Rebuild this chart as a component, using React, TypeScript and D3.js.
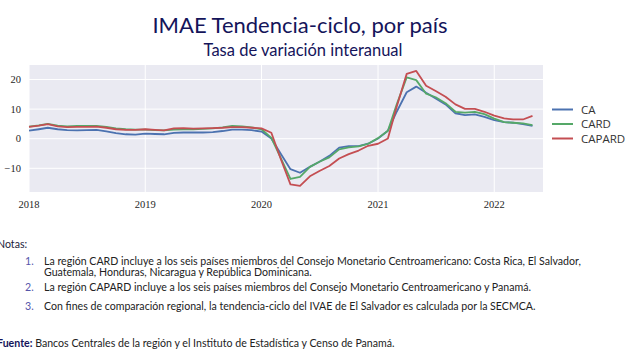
import * as d3 from "d3";

// monthly observations, Jan 2018 .. May 2022
const months = d3.timeMonth.range(new Date(2018, 0, 1), new Date(2022, 5, 1));

const ca = [
  2.7, 3.2, 3.7, 3.2, 2.9, 2.8, 2.9, 3.0, 2.5, 1.9, 1.5, 1.4,
  1.7, 1.6, 1.5, 2.0, 2.1, 2.1, 2.1, 2.2, 2.6, 3.1, 3.1, 2.9,
  2.4, 0.1, -5.0, -10.3, -11.5, -9.5, -7.8, -5.8, -3.0, -2.5, -2.5, -1.7,
  0.1, 2.7, 9.2, 15.7, 17.6, 15.5, 13.6, 11.6, 8.6, 8.0, 8.2, 7.4,
  6.3, 5.6, 5.4, 4.9, 4.3,
];

const card = [
  4.1, 4.5, 5.0, 4.4, 4.2, 4.3, 4.3, 4.3, 4.0, 3.5, 3.2, 3.1,
  3.1, 2.9, 2.8, 3.1, 3.2, 3.2, 3.3, 3.5, 3.8, 4.3, 4.2, 3.8,
  3.2, 0.3, -6.4, -13.6, -12.9, -9.5, -7.8, -6.3, -3.6, -2.9, -2.6, -1.7,
  0.2, 2.7, 11.7, 20.7, 19.8, 15.2, 14.0, 12.0, 9.1, 8.8, 9.1, 8.3,
  6.8, 5.6, 5.4, 5.2, 4.6,
];

const capard = [
  4.0, 4.4, 4.9, 4.2, 3.9, 4.0, 4.0, 4.1, 3.7, 3.2, 3.0, 3.0,
  3.2, 3.0, 2.8, 3.5, 3.6, 3.4, 3.5, 3.6, 3.7, 3.9, 3.9, 3.7,
  3.5, 2.0, -6.7, -15.4, -15.9, -12.7, -10.9, -9.2, -6.7, -5.2, -4.0, -2.4,
  -1.7, 0.1, 11.0, 21.9, 22.9, 17.9, 16.1, 14.2, 11.6, 10.1, 10.1, 9.1,
  7.8, 6.9, 6.5, 6.5, 7.7,
];

const seriesNames = ["CA", "CARD", "CAPARD"];
const seriesValues = [ca, card, capard];
const seriesColors = ["#4C72B0", "#55A868", "#C44E52"];

const yTicks = [-10, 0, 10, 20];
const yearTicks = [2018, 2019, 2020, 2021, 2022];

const title = "IMAE Tendencia-ciclo, por país";
const subtitle = "Tasa de variación interanual";

const notes = [
  [
    "La región CARD incluye a los seis países miembros del Consejo Monetario Centroamericano: Costa Rica, El Salvador,",
    "Guatemala, Honduras, Nicaragua y República Dominicana.",
  ],
  ["La región CAPARD incluye a los seis países miembros del Consejo Monetario Centroamericano y Panamá."],
  ["Con fines de comparación regional, la tendencia-ciclo del IVAE de El Salvador es calculada por la SECMCA."],
];
const source = "Bancos Centrales de la región y el Instituto de Estadística y Censo de Panamá.";

const W = 640;
const H = 361;
const plot = { left: 29, right: 543, top: 65, bottom: 192 };

const headFont = "Lato, 'Noto Sans', sans-serif";

export default function App() {
  const x = d3
    .scaleTime()
    .domain([new Date(2018, 0, 1), new Date(2022, 5, 3)])
    .range([plot.left, plot.right]);
  const y = d3.scaleLinear().domain([-18, 24.9]).range([plot.bottom, plot.top]);

  const line = d3
    .line<number>()
    .x((_, i) => x(months[i]))
    .y((d) => y(d));

  const noteRows = [264.5, 291, 309.5];
  const noteSize = 10.6;

  return (
    <svg
      width={W}
      height={H}
      style={{ position: "absolute", left: 0, top: 0, background: "#fff" }}
    >
      <text x={300} y={33} textAnchor="middle" fontFamily={headFont} fontSize={22} fill="#14145a">
        {title}
      </text>
      <text x={303} y={56} textAnchor="middle" fontFamily={headFont} fontSize={16.5} fill="#14145a">
        {subtitle}
      </text>

      <rect
        x={plot.left}
        y={plot.top}
        width={plot.right - plot.left}
        height={plot.bottom - plot.top}
        fill="#EAEAF2"
      />
      {yTicks.map((t) => (
        <line key={"gy" + t} x1={plot.left} x2={plot.right} y1={y(t)} y2={y(t)} stroke="#fff" strokeWidth={1} />
      ))}
      {yearTicks.map((yr) => (
        <line
          key={"gx" + yr}
          x1={x(new Date(yr, 0, 1))}
          x2={x(new Date(yr, 0, 1))}
          y1={plot.top}
          y2={plot.bottom}
          stroke="#fff"
          strokeWidth={1}
        />
      ))}

      {seriesValues.map((vals, k) => (
        <path
          key={seriesNames[k]}
          d={line(vals) ?? ""}
          fill="none"
          stroke={seriesColors[k]}
          strokeWidth={1.8}
          strokeLinejoin="round"
        />
      ))}

      {yTicks.map((t) => (
        <text
          key={"ly" + t}
          x={21}
          y={y(t) + 3.5}
          textAnchor="end"
          fontFamily="'Liberation Serif', serif"
          fontSize={10.5}
          fill="#262626"
        >
          {t < 0 ? "\u2212" + Math.abs(t) : String(t)}
        </text>
      ))}
      {yearTicks.map((yr) => (
        <text
          key={"lx" + yr}
          x={x(new Date(yr, 0, 1))}
          y={208}
          textAnchor="middle"
          fontFamily="'Liberation Serif', serif"
          fontSize={10.5}
          fill="#262626"
        >
          {yr}
        </text>
      ))}

      {seriesNames.map((name, k) => (
        <g key={"lg" + name} transform={`translate(0, ${109.5 + k * 14.5})`}>
          <line x1={552} x2={573} y1={0} y2={0} stroke={seriesColors[k]} strokeWidth={2} />
          <text x={581} y={4} fontFamily="'Open Sans', sans-serif" fontSize={11.5} fill="#333">
            {name}
          </text>
        </g>
      ))}

      <text x={-3} y={247.5} fontFamily={headFont} fontSize={noteSize} fill="#1a1a3a">
        Notas:
      </text>
      {notes.map((rows, k) => (
        <g key={"n" + k}>
          <text x={25} y={noteRows[k]} fontFamily={headFont} fontSize={noteSize} fill="#5555aa">
            {k + 1 + "."}
          </text>
          {rows.map((r, j) => (
            <text key={j} x={44} y={noteRows[k] + j * 11} fontFamily={headFont} fontSize={noteSize} fill="#222">
              {r}
            </text>
          ))}
        </g>
      ))}
      <text x={-3} y={347} fontFamily={headFont} fontSize={noteSize} fill="#222">
        <tspan fill="#14145a" fontWeight={700}>Fuente:</tspan> {source}
      </text>
    </svg>
  );
}
